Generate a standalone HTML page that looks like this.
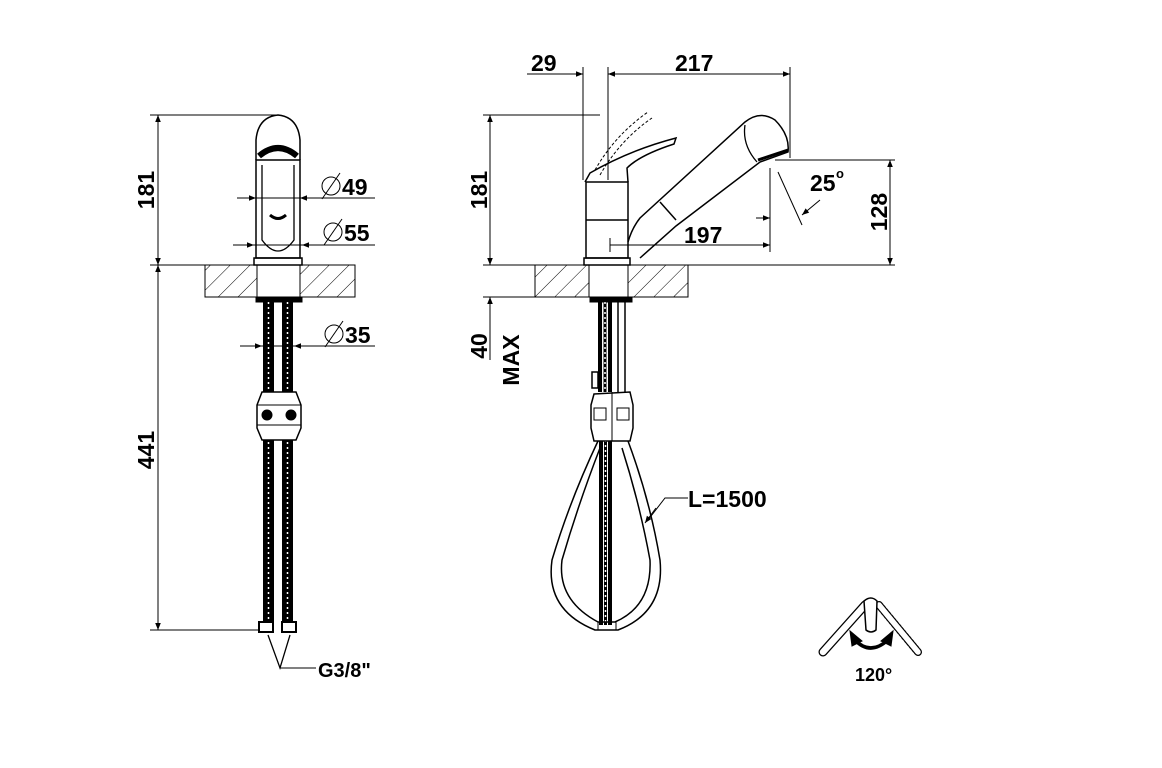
<!DOCTYPE html>
<html><head><style>
html,body{margin:0;padding:0;background:#fff;}
svg{display:block;}
text{font-family:"Liberation Sans",Arial,sans-serif;font-weight:bold;fill:#000;}
</style></head><body>
<svg width="1162" height="768" viewBox="0 0 1162 768" xmlns="http://www.w3.org/2000/svg">
<defs>
<pattern id="hatch" width="14" height="14" patternUnits="userSpaceOnUse" patternTransform="rotate(45)">
<line x1="0" y1="0" x2="0" y2="14" stroke="#000" stroke-width="1"/>
</pattern>
<marker id="ar" viewBox="0 0 10 10" refX="10" refY="5" markerWidth="13" markerHeight="7" orient="auto-start-reverse" markerUnits="userSpaceOnUse">
<path d="M0,1 L10,5 L0,9 z" fill="#000"/>
</marker>
</defs>
<rect width="1162" height="768" fill="#fff"/>
<g stroke="#000" fill="none" stroke-width="1">
<!-- LEFT VIEW -->
<line x1="150" y1="115" x2="280" y2="115"/>
<line x1="150" y1="265" x2="355" y2="265"/>
<line x1="150" y1="630" x2="258" y2="630"/>
<line x1="158" y1="115" x2="158" y2="265" marker-start="url(#ar)" marker-end="url(#ar)"/>
<line x1="158" y1="265" x2="158" y2="630" marker-start="url(#ar)" marker-end="url(#ar)"/>
<rect x="205" y="265" width="52" height="32" fill="url(#hatch)"/>
<rect x="300" y="265" width="55" height="32" fill="url(#hatch)"/>
<line x1="205" y1="297" x2="355" y2="297"/>
<path d="M256,160 L256,140 Q258,117 278,115 Q298,117 300,140 L300,160" stroke-width="1.5"/>
<path d="M259,156 Q278,140 297,156" stroke-width="6"/>
<rect x="256" y="160" width="44" height="98" stroke-width="1.5"/>
<path d="M262,165 L262,240 Q278,262 294,240 L294,165" stroke-width="1.3"/>
<path d="M270,215 Q278,222 286,215" stroke-width="3"/>
<rect x="254" y="258" width="48" height="7" stroke-width="1.5"/>
<rect x="256" y="297" width="46" height="5" fill="#000"/>
<g stroke-width="4">
<line x1="265" y1="302" x2="265" y2="622"/><line x1="272" y1="302" x2="272" y2="622"/>
<line x1="284" y1="302" x2="284" y2="622"/><line x1="291" y1="302" x2="291" y2="622"/>
</g>
<g stroke="#000" stroke-width="3">
<line x1="268.5" y1="302" x2="268.5" y2="622"/><line x1="287.5" y1="302" x2="287.5" y2="622"/>
</g>
<g stroke="#fff" stroke-width="1.5" stroke-dasharray="2 3">
<line x1="268.5" y1="302" x2="268.5" y2="622"/><line x1="287.5" y1="302" x2="287.5" y2="622"/>
</g>
<path d="M262,392 L296,392 L301,405 L301,428 L296,440 L262,440 L257,428 L257,405 Z" fill="#fff" stroke-width="1.5"/>
<line x1="257" y1="405" x2="301" y2="405"/><line x1="257" y1="425" x2="301" y2="425"/>
<ellipse cx="267" cy="415" rx="5" ry="5" fill="#000"/><ellipse cx="291" cy="415" rx="5" ry="5" fill="#000"/>
<rect x="259" y="622" width="14" height="10" stroke-width="2"/>
<rect x="282" y="622" width="14" height="10" stroke-width="2"/>
<path d="M268,635 L280,668 L290,635" stroke-width="1.3"/>
<line x1="280" y1="668" x2="316" y2="668"/>
<line x1="237" y1="198" x2="256" y2="198" marker-end="url(#ar)"/>
<line x1="256" y1="198" x2="300" y2="198"/>
<line x1="375" y1="198" x2="300" y2="198" marker-end="url(#ar)"/>
<line x1="233" y1="245" x2="254" y2="245" marker-end="url(#ar)"/>
<line x1="254" y1="245" x2="302" y2="245"/>
<line x1="375" y1="245" x2="302" y2="245" marker-end="url(#ar)"/>
<line x1="240" y1="346" x2="262" y2="346" marker-end="url(#ar)"/>
<line x1="262" y1="346" x2="294" y2="346"/>
<line x1="375" y1="346" x2="294" y2="346" marker-end="url(#ar)"/>
<circle cx="331" cy="186" r="9"/><line x1="322" y1="199" x2="340" y2="173"/>
<circle cx="333" cy="232" r="9"/><line x1="324" y1="245" x2="342" y2="219"/>
<circle cx="334" cy="334" r="9"/><line x1="325" y1="347" x2="343" y2="321"/>

<!-- RIGHT VIEW -->
<line x1="483" y1="115" x2="600" y2="115"/>
<line x1="483" y1="265" x2="895" y2="265"/>
<line x1="483" y1="297" x2="540" y2="297"/>
<line x1="490" y1="115" x2="490" y2="265" marker-start="url(#ar)" marker-end="url(#ar)"/>
<line x1="490" y1="297" x2="490" y2="360" marker-start="url(#ar)"/>
<rect x="535" y="265" width="54" height="32" fill="url(#hatch)"/>
<rect x="628" y="265" width="60" height="32" fill="url(#hatch)"/>
<line x1="583" y1="67" x2="583" y2="180"/>
<line x1="608" y1="67" x2="608" y2="180"/>
<line x1="790" y1="67" x2="790" y2="158"/>
<line x1="527" y1="74" x2="583" y2="74" marker-end="url(#ar)"/>
<line x1="608" y1="74" x2="790" y2="74" marker-start="url(#ar)" marker-end="url(#ar)"/>
<rect x="586" y="182" width="42" height="76" stroke-width="1.5"/>
<line x1="586" y1="220" x2="628" y2="220" stroke-width="1.5"/>
<rect x="584" y="258" width="46" height="7" stroke-width="1.5"/>
<path d="M585,182 L590,173 Q630,150 676,138 L674,144 Q640,155 627,168 L628,182" stroke-width="1.5"/>
<path d="M595,170 Q615,135 648,112" stroke-dasharray="3 2" stroke-width="1"/>
<path d="M600,175 Q620,140 652,118" stroke-dasharray="3 2" stroke-width="1"/>
<path d="M628,242 Q632,228 640,218 L745,122 Q760,110 775,120 Q790,135 788,152 L760,162 L676,226 L640,258" stroke-width="1.5"/>
<path d="M745,125 Q742,145 757,162" stroke-width="1.3"/>
<line x1="660" y1="202" x2="676" y2="220" stroke-width="1.5"/>
<path d="M758,160 L788,150" stroke-width="3"/>
<line x1="770" y1="168" x2="770" y2="252"/>
<line x1="610" y1="245" x2="770" y2="245" marker-end="url(#ar)"/>
<line x1="610" y1="238" x2="610" y2="252"/>
<line x1="756" y1="218" x2="770" y2="218" marker-end="url(#ar)"/>
<line x1="778" y1="172" x2="802" y2="225"/>
<line x1="820" y1="200" x2="802" y2="215" marker-end="url(#ar)"/>
<line x1="775" y1="160" x2="895" y2="160"/>
<line x1="890" y1="160" x2="890" y2="265" marker-start="url(#ar)" marker-end="url(#ar)"/>
<rect x="590" y="297" width="42" height="5" fill="#000"/>
<g stroke-width="4">
<line x1="600" y1="302" x2="600" y2="392"/><line x1="610" y1="302" x2="610" y2="392"/>
<line x1="601" y1="440" x2="601" y2="625"/><line x1="610" y1="440" x2="610" y2="625"/>
</g>
<g stroke-width="3">
<line x1="605" y1="302" x2="605" y2="392"/><line x1="605.5" y1="440" x2="605.5" y2="625"/>
</g>
<line x1="618" y1="302" x2="618" y2="392" stroke-width="1.5"/>
<line x1="625" y1="302" x2="625" y2="392" stroke-width="1.5"/>
<g stroke="#fff" stroke-width="1.5" stroke-dasharray="2 3">
<line x1="605" y1="302" x2="605" y2="392"/><line x1="605.5" y1="440" x2="605.5" y2="625"/>
</g>
<rect x="592" y="372" width="6" height="16" stroke-width="1.5"/>
<path d="M594,394 L630,392 L633,405 L633,428 L630,441 L594,441 L591,428 L591,405 Z" fill="#fff" stroke-width="1.5"/>
<line x1="612" y1="392" x2="612" y2="441"/>
<rect x="594" y="408" width="12" height="12"/><rect x="617" y="408" width="12" height="12"/>
<path d="M598,441 Q570,500 552,560 Q545,610 595,630 L618,630 Q665,612 660,560 Q650,500 628,441" stroke-width="1.5"/>
<path d="M600,448 Q578,505 562,560 Q557,600 598,622 L615,622 Q652,606 650,560 Q640,505 622,448" stroke-width="1.5"/>
<line x1="598" y1="622" x2="598" y2="630"/><line x1="616" y1="622" x2="616" y2="630"/>
<path d="M688,498 L665,498 L648,520" />
<line x1="656" y1="508" x2="645" y2="523" marker-end="url(#ar)"/>
<line x1="823" y1="652" x2="865" y2="605" stroke-width="9" stroke-linecap="round"/>
<line x1="823" y1="652" x2="865" y2="605" stroke="#fff" stroke-width="6.5" stroke-linecap="round"/>
<line x1="879" y1="605" x2="918" y2="652" stroke-width="8" stroke-linecap="round" stroke-dasharray="2 2"/>
<line x1="879" y1="605" x2="918" y2="652" stroke="#fff" stroke-width="5.5" stroke-linecap="round"/>
<path d="M864,601 Q871,595 877,601 L876,630 Q871,634 866,630 Z" fill="#fff" stroke-width="1.5"/>
<path d="M855,640 Q870,656 888,640" stroke-width="3.5"/>
<path d="M850,631 L852,646 L862,641 Z" fill="#000"/>
<path d="M893,631 L891,646 L881,641 Z" fill="#000"/>
</g>
<g font-size="23">
<text transform="translate(154,190) rotate(-90)" text-anchor="middle">181</text>
<text transform="translate(154,450) rotate(-90)" text-anchor="middle">441</text>
<text x="342" y="195">49</text>
<text x="344" y="241">55</text>
<text x="345" y="343">35</text>
<text x="318" y="677" font-size="20">G3/8"</text>
<text transform="translate(487,190) rotate(-90)" text-anchor="middle">181</text>
<text transform="translate(487,346) rotate(-90)" text-anchor="middle">40</text>
<text transform="translate(519,360) rotate(-90)" text-anchor="middle">MAX</text>
<text x="531" y="71">29</text>
<text x="675" y="71">217</text>
<text x="684" y="243">197</text>
<text x="810" y="191">25</text>
<text x="836" y="178" font-size="13" font-weight="normal">o</text>
<text transform="translate(887,212) rotate(-90)" text-anchor="middle">128</text>
<text x="688" y="507">L=1500</text>
<text x="855" y="681" font-size="18">120°</text>
</g>
</svg>
</body></html>
